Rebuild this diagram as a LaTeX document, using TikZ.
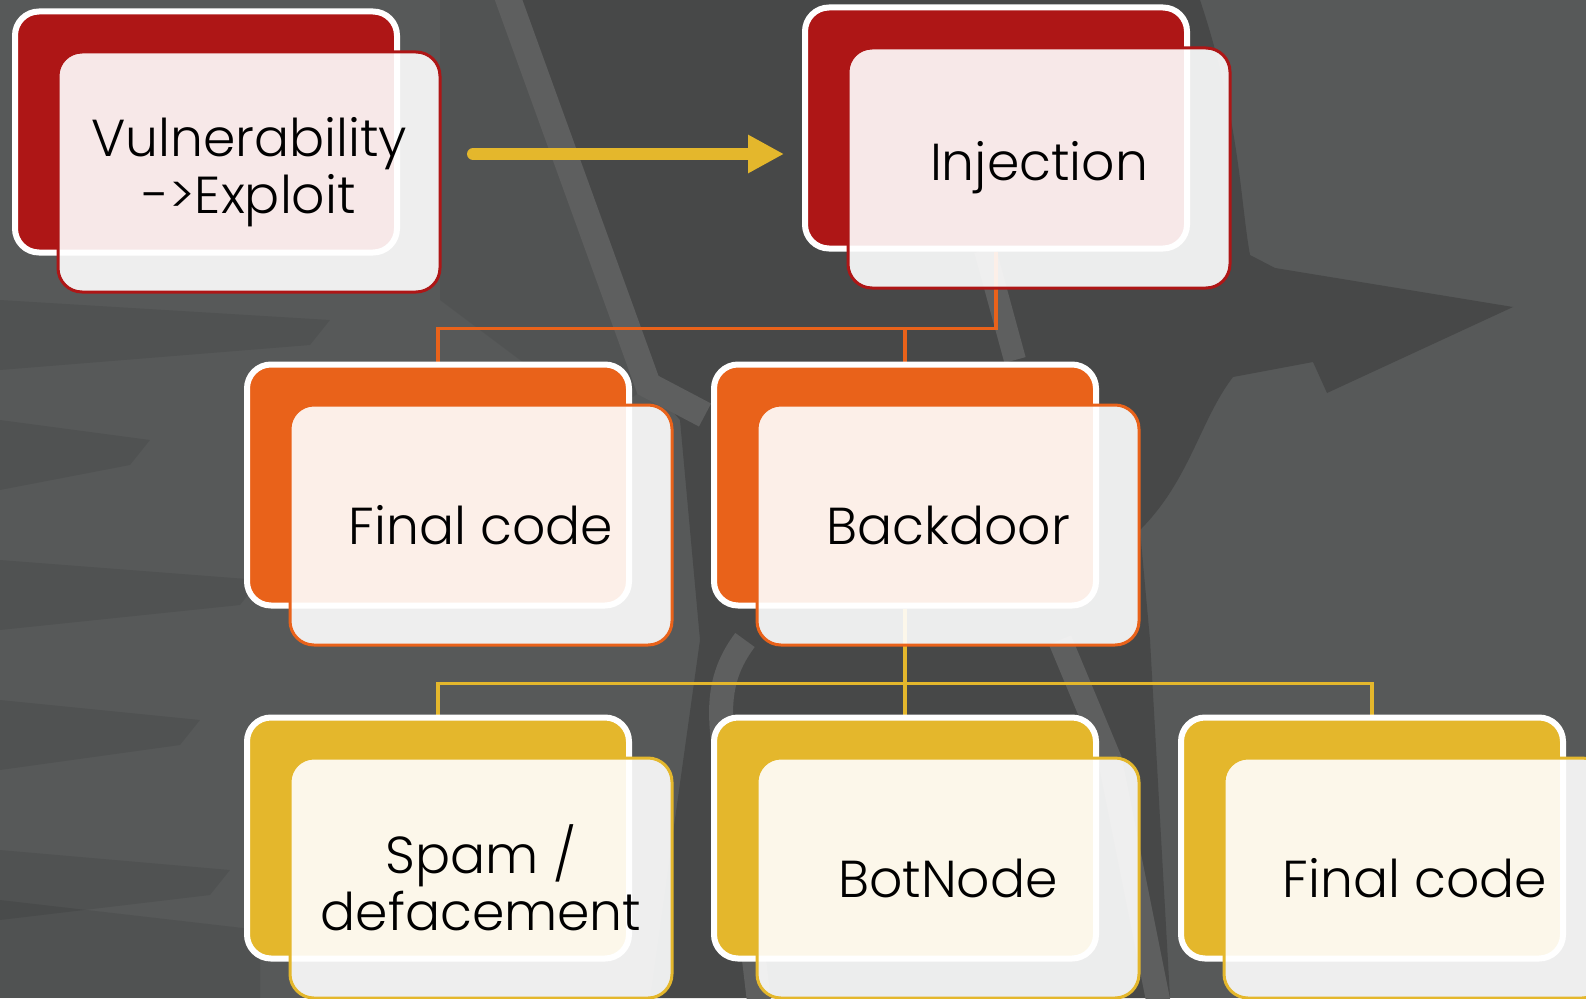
\documentclass[tikz,border=0pt]{standalone}
\usepackage{fontspec}
\setmainfont{Poppins Light}
\usepackage{tikz}
\usetikzlibrary{arrows.meta,backgrounds,calc,positioning}
\definecolor{rot}{HTML}{AE1616}
\definecolor{orng}{HTML}{E9621A}
\definecolor{gelb}{HTML}{E4B72C}
\definecolor{grund}{HTML}{575959}
\definecolor{dunkel}{HTML}{474848}
\definecolor{streifen}{HTML}{5E5F5F}

\begin{document}
\begin{tikzpicture}[x=1pt,y=-1pt,
  hinten/.style={draw=white,line width=6pt,fill=#1,rounded corners=24pt,
    minimum width=382pt,minimum height=241pt,inner sep=0pt},
  vorne/.style={draw=#1,line width=3pt,fill=white,fill opacity=0.9,text opacity=1,
    rounded corners=24pt,minimum width=382pt,minimum height=240pt,inner sep=0pt,
    align=center,font=\fontsize{52}{57}\selectfont},
  linie/.style={draw=#1,line width=3.5pt},
  pfeil/.style={draw=gelb,line width=12pt,line cap=round,-{Triangle[length=36pt,width=36pt]}}]
\useasboundingbox (0,0) rectangle (1586,998);
%Karten: hinten farbig, vorne halbdurchsichtig, Versatz (43,40)
\node[hinten=rot] (vulnB) at (206,132) {};
\node[vorne=rot] (vuln) at ($(vulnB)+(43,40)$) {Vulnerability\\->Exploit};
\node[hinten=rot] (injB) at (996,128) {};
\node[vorne=rot] (inj) at ($(injB)+(43,40)$) {Injection};
\node[hinten=orng] (finB) at (438,485) {};
\node[vorne=orng] (fin) at ($(finB)+(43,40)$) {Final code};
\node[hinten=orng] (bdB) at (905,485) {};
\node[vorne=orng] (bd) at ($(bdB)+(43,40)$) {Backdoor};
\node[hinten=gelb] (spamB) at (438,838) {};
\node[vorne=gelb] (spam) at ($(spamB)+(43,40)$) {Spam /\\defacement};
\node[hinten=gelb] (botB) at (905,838) {};
\node[vorne=gelb] (bot) at ($(botB)+(43,40)$) {BotNode};
\node[hinten=gelb] (finzB) at (1372,838) {};
\node[vorne=gelb] (finz) at ($(finzB)+(43,40)$) {Final code};
%Pfeil oben
\coordinate (pA) at (473,154);
\coordinate (pB) at (784,154);
\draw[pfeil] (pA) -- (pB);
\begin{scope}[on background layer]
%Hintergrund mit grauen Pfeilen
\fill[grund] (0,0) rectangle (1586,998);
\fill[dunkel] (520,0) -- (1200,0) .. controls (1240,120) and (1240,200) .. (1250,255)
  -- (1275,268) -- (1513,307) -- (1327,393)
  -- (1313,362) -- (1233,377) .. controls (1200,420) and (1190,480) .. (1140,530)
  -- (1150,640) -- (1170,998) -- (650,998) -- (700,640) -- (680,420) -- (650,385) -- cycle;
\fill[black,opacity=0.06] (440,0) -- (520,0) -- (650,385) -- (600,420) -- (440,300) -- cycle;
\foreach \y/\l in {300/330,420/150,560/260,700/200,850/230}{
  \fill[black,opacity=0.07] (0,\y) -- (\l,\y+20) -- (\l-20,\y+45) -- (0,\y+70) -- cycle;
}
\fill[black,opacity=0.08] (0,900) -- (260,930) -- (260,998) -- (0,998) -- cycle;
\draw[streifen,line width=26pt] (505,-10) -- (648,385) -- (705,415);
\draw[streifen,line width=22pt] (985,250) -- (1015,360);
\draw[streifen,line width=24pt] (745,640) .. controls (715,680) and (715,720) .. (735,800) -- (760,1010);
\draw[streifen,line width=24pt] (1060,640) -- (1110,760) -- (1160,1010);
%Verbindungen
\draw[linie=orng] (injB.south) -- ++(0,77) -| (finB.north);
\draw[linie=orng] (bdB.north) -- ++(0,-33);
\draw[linie=gelb] (bdB.south) -- ++(0,75) -| (spamB.north);
\draw[linie=gelb] (bdB.south) -- ++(0,75) -| (finzB.north);
\draw[linie=gelb] (botB.north) -- ++(0,-33);
\end{scope}
\end{tikzpicture}
\end{document}
